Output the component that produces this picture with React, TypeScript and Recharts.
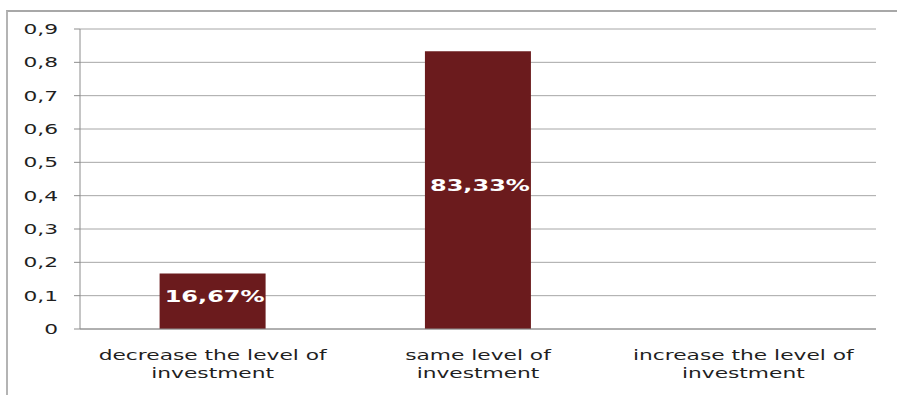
import React from 'react';
import {
  BarChart,
  Bar,
  XAxis,
  YAxis,
  CartesianGrid,
  LabelList,
} from 'recharts';

// Answer categories and the share of respondents for each
const categories = [
  'decrease the level of investment',
  'same level of investment',
  'increase the level of investment',
];
const shares = [0.1667, 0.8333, 0];

// Value axis ticks, and the band edges on the category axis
const yTicks = [0, 0.1, 0.2, 0.3, 0.4, 0.5, 0.6, 0.7, 0.8, 0.9];
const edgeTicks = [0, 1, 2, 3];

const chartData = categories.map((name, i) => ({ name, share: shares[i] }));

const FONT = '"DejaVu Sans", Verdana, sans-serif';
// the old export renders text wide, so every label is stretched sideways
const STRETCH = 1.5;

const formatTick = (v: number) => (v === 0 ? '0' : v.toFixed(1).replace('.', ','));
const formatPct = (v: number) => `${(v * 100).toFixed(2).replace('.', ',')}%`;

const YTick = ({ x, y, payload }: any) => (
  <g transform={`translate(${x},${y + 5}) scale(${STRETCH},1)`}>
    <text x={0} y={0} textAnchor="end" fontSize={14.5} fill="#1f1f1f" fontFamily={FONT}>
      {formatTick(payload.value)}
    </text>
  </g>
);

const CategoryTick = ({ x, y, payload }: any) => {
  // wrap before the last word
  const text: string = payload.value;
  const cut = text.lastIndexOf(' ');
  const lines = [text.slice(0, cut), text.slice(cut + 1)];
  return (
    <g>
      {lines.map((line, i) => (
        <g key={i} transform={`translate(${x},${y + 31 + i * 18}) scale(${STRETCH},1)`}>
          <text x={0} y={0} textAnchor="middle" fontSize={14.5} fill="#1f1f1f" fontFamily={FONT}>
            {line}
          </text>
        </g>
      ))}
    </g>
  );
};

const BarValue = ({ x, y, width, height, value }: any) => {
  if (!value) return null;
  return (
    <g transform={`translate(${x + width / 2 + 2},${y + height / 2 + 1}) scale(${STRETCH},1)`}>
      <text x={0} y={0} textAnchor="middle" fontSize={16} fontWeight="bold" fill="#ffffff" fontFamily={FONT}>
        {formatPct(value)}
      </text>
    </g>
  );
};

export default function App() {
  return (
    <div
      style={{
        position: 'absolute',
        left: 0,
        top: 0,
        width: 897,
        height: 396,
        background: '#ffffff',
        overflow: 'hidden',
      }}
    >
      <div
        style={{
          position: 'absolute',
          left: 6,
          top: 10,
          width: 900,
          height: 383,
          borderLeft: '2px solid #b4b4b4',
          borderTop: '2px solid #a8a8a8',
        }}
      />
      <BarChart
        width={897}
        height={396}
        data={chartData}
        margin={{ top: 29, right: 21, left: 0, bottom: 0 }}
        barCategoryGap="30%"
        style={{ position: 'absolute', left: 0, top: 0 }}
      >
        <CartesianGrid horizontal vertical={false} stroke="#a6a6a6" />
        <XAxis
          xAxisId="edge"
          type="number"
          domain={[0, 3]}
          ticks={edgeTicks}
          height={0}
          axisLine={false}
          tick={false}
          tickSize={4}
          stroke="#8c8c8c"
          allowDataOverflow
        />
        <XAxis
          dataKey="name"
          height={67}
          tickLine={false}
          tickSize={0}
          tickMargin={0}
          axisLine={{ stroke: '#8c8c8c' }}
          tick={<CategoryTick />}
          interval={0}
        />
        <YAxis
          width={80}
          domain={[0, 0.9]}
          ticks={yTicks}
          tickSize={6}
          tickMargin={16}
          axisLine={{ stroke: '#8c8c8c' }}
          tickLine={{ stroke: '#8c8c8c' }}
          tick={<YTick />}
          interval={0}
        />
        <Bar dataKey="share" fill="#6b1b1d" isAnimationActive={false}>
          <LabelList dataKey="share" content={<BarValue />} />
        </Bar>
      </BarChart>
    </div>
  );
}
